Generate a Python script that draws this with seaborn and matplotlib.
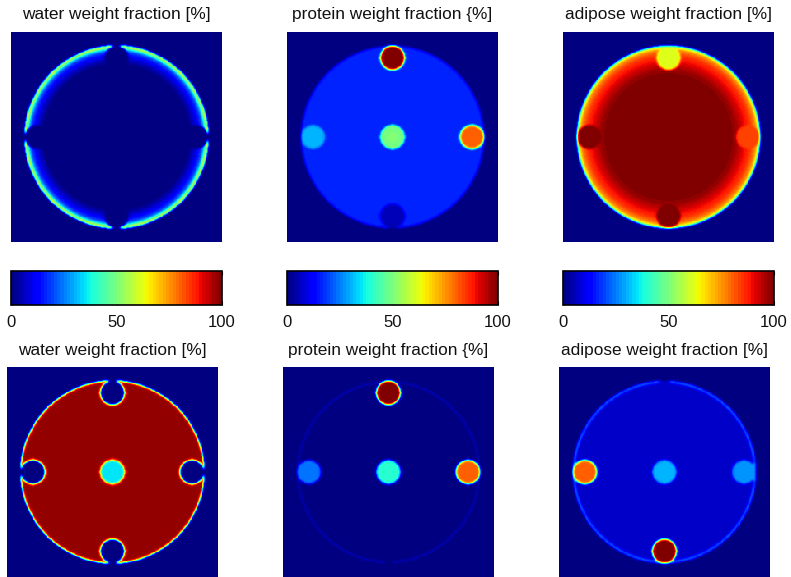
import numpy as np
import matplotlib
matplotlib.use("Agg")
import matplotlib.pyplot as plt
import seaborn as sns

sns.set_style("white")
plt.rcParams['font.family'] = ['Liberation Sans', 'DejaVu Sans']
plt.rcParams['text.color'] = '#111111'
plt.rcParams['xtick.color'] = 'black'
plt.rcParams['xtick.labelcolor'] = '#111111'

# ---------------- data ----------------
titles = ["water weight fraction [%]", "protein weight fraction {%]", "adipose weight fraction [%]"]
cbar_ticks = [0, 50, 100]
insert_names = ["center", "top", "right", "bottom", "left"]

# row 1 (top) : radial body profile (r / R -> value) and insert values
top_water_r = [0.0, 0.79, 0.87, 0.94, 0.98, 1.0]
top_water_v = [0, 0, 8, 20, 48, 100]
top_water_inserts = [0, 0, 0, 0, 0]

top_protein_r = [0.0, 1.0]
top_protein_v = [16, 16]
top_protein_inserts = [50, 100, 80, 5, 30]

top_adipose_r = [0.0, 0.66, 0.74, 0.82, 0.90, 0.96, 1.0]
top_adipose_v = [100, 100, 97, 91, 85, 75, 50]
top_adipose_inserts = [100, 62, 84, 100, 100]

# row 2 (bottom)
bot_water_r = [0.0, 1.0]
bot_water_v = [97, 97]
bot_water_inserts = [35, 0, 0, 0, 0]

bot_protein_r = [0.0, 0.975, 0.99, 1.0]
bot_protein_v = [1, 1, 7, 7]
bot_protein_inserts = [40, 100, 80, 1, 24]

bot_adipose_r = [0.0, 0.97, 0.985, 1.0]
bot_adipose_v = [7, 7, 28, 28]
bot_adipose_inserts = [30, 7, 27, 100, 80]

# ---------------- phantom builder ----------------
N = 256
R_BODY = 0.434 * N
D_INS = 0.377 * N
R_INS = 0.057 * N
angles = {"center": None, "top": (0, -1), "right": (1, 0), "bottom": (0, 1), "left": (-1, 0)}


def blur(img, sigma=1.3):
    k = np.arange(-6, 7)
    g = np.exp(-k ** 2 / (2 * sigma ** 2))
    g /= g.sum()
    img = np.apply_along_axis(lambda v: np.convolve(v, g, mode="same"), 0, img)
    img = np.apply_along_axis(lambda v: np.convolve(v, g, mode="same"), 1, img)
    return img


def phantom(prof_r, prof_v, inserts):
    yy, xx = np.mgrid[0:N, 0:N] + 0.5
    c = N / 2
    r = np.hypot(xx - c, yy - c)
    img = np.zeros((N, N))
    inside = r <= R_BODY
    img[inside] = np.interp(r[inside] / R_BODY, prof_r, prof_v)
    for name, val in zip(insert_names, inserts):
        d = angles[name]
        cx, cy = (c, c) if d is None else (c + d[0] * D_INS, c + d[1] * D_INS)
        m = np.hypot(xx - cx, yy - cy) <= R_INS
        img[m] = val
    return blur(img)


panels = [
    (top_water_r, top_water_v, top_water_inserts),
    (top_protein_r, top_protein_v, top_protein_inserts),
    (top_adipose_r, top_adipose_v, top_adipose_inserts),
    (bot_water_r, bot_water_v, bot_water_inserts),
    (bot_protein_r, bot_protein_v, bot_protein_inserts),
    (bot_adipose_r, bot_adipose_v, bot_adipose_inserts),
]

cmap = plt.get_cmap("jet", 64)

W, H = 791, 577
fig = plt.figure(figsize=(W / 100, H / 100), dpi=100)


def px_axes(x0, y0, w, h):
    return fig.add_axes([x0 / W, 1 - (y0 + h) / H, w / W, h / H])


top_x = [11, 287, 563]
bot_x = [7, 283, 559]
img_w, img_h = 211, 210

for i, (pr, pv, ins) in enumerate(panels):
    row = i // 3
    col = i % 3
    x0 = top_x[col] if row == 0 else bot_x[col]
    y0 = 32 if row == 0 else 367
    ax = px_axes(x0, y0, img_w, img_h)
    sns.heatmap(phantom(pr, pv, ins), ax=ax, cmap=cmap, vmin=0, vmax=100,
                cbar=False, xticklabels=False, yticklabels=False, rasterized=True)
    ax.set_title(titles[col], fontsize=12.4, pad=9)

# colorbars
sm = plt.cm.ScalarMappable(cmap=cmap, norm=plt.Normalize(0, 100))
for col in range(3):
    cax = px_axes(top_x[col], 271, img_w, 34)
    cb = fig.colorbar(sm, cax=cax, orientation="horizontal", ticks=cbar_ticks)
    cb.outline.set_linewidth(1.2)
    cb.outline.set_edgecolor("black")
    cax.tick_params(direction="in", length=3, width=0.8, top=True, bottom=True,
                    labelsize=12, pad=7)
    cax.set_xticklabels([str(t) for t in cbar_ticks])

fig.savefig("out.png", dpi=100)
